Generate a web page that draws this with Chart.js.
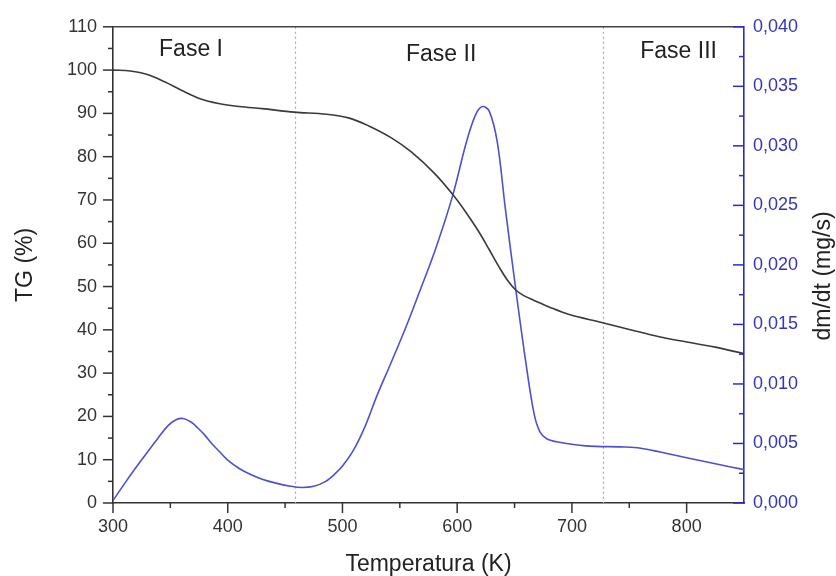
<!DOCTYPE html>
<html><head><meta charset="utf-8">
<script src="https://cdn.jsdelivr.net/npm/chart.js@4/dist/chart.umd.min.js"></script>
<style>html,body{margin:0;padding:0;background:#fff}#wrap{width:836px;height:576px}</style>
</head><body><div id="wrap"><canvas id="c" width="836" height="576"></canvas></div>
<script>
// ---- data ----
const tgTemps  = [300, 315, 330, 345, 360, 376, 392, 410, 430, 458, 486, 506, 523, 543, 560, 580, 596, 608, 619, 628, 637, 644, 651, 658, 667, 680, 697, 726, 750, 776, 800, 825, 850];
const tgValues = [100, 99.8, 99.0, 97.3, 95.3, 93.4, 92.3, 91.6, 91.1, 90.3, 89.8, 88.9, 87.1, 84.3, 81.1, 76.2, 71.3, 67.0, 62.6, 58.5, 54.3, 51.4, 49.2, 47.9, 46.8, 45.3, 43.6, 41.7, 40.1, 38.4, 37.2, 36.0, 34.5];

const dtgTemps  = [300, 312, 324, 338, 348, 355, 361, 368, 374, 380, 386, 393, 400, 410, 420, 430, 442, 455, 465, 475, 485, 493, 500, 510, 520, 530, 542, 555, 567, 581, 596, 608, 616, 622, 628, 635, 642, 651, 660, 667, 672, 678, 689, 712, 747, 760, 776, 800, 825, 850];
const dtgValues = [0.0002, 0.0019, 0.0035, 0.0053, 0.0065, 0.0070, 0.0071, 0.0068, 0.0063, 0.0057, 0.0050, 0.0043, 0.0036, 0.0029, 0.0024, 0.0020, 0.00167, 0.0014, 0.0013, 0.0014, 0.0018, 0.0024, 0.0031, 0.0045, 0.0065, 0.0090, 0.0117, 0.0147, 0.0177, 0.0213, 0.0258, 0.0303, 0.0326, 0.0333, 0.0329, 0.0303, 0.0247, 0.0180, 0.0117, 0.0075, 0.0060, 0.0054, 0.0051, 0.0048, 0.0047, 0.0046, 0.0043, 0.0038, 0.0033, 0.0028];

const xTickValues   = [300, 400, 500, 600, 700, 800];
const tgTickValues  = [0, 10, 20, 30, 40, 50, 60, 70, 80, 90, 100, 110];
const dtgTickValues = [0, 0.005, 0.010, 0.015, 0.020, 0.025, 0.030, 0.035, 0.040];
const phaseBoundaries = [459, 727];
const phaseNames      = ['Fase I', 'Fase II', 'Fase III'];
const phaseLabelTemps = [368, 586, 793];

const FONT = "'Liberation Sans', Arial, sans-serif";
const BLUE_AXIS = '#2b2bc4';
const BLUE_TEXT = '#3535b5';

const decorPlugin = {
  id: 'decor',
  beforeDatasetsDraw(chart) {
    const {ctx, chartArea: a, scales} = chart;
    ctx.save();
    ctx.strokeStyle = '#a8a8a8';
    ctx.lineWidth = 1.2;
    ctx.setLineDash([2, 3]);
    phaseBoundaries.forEach(t => {
      const x = Math.round(scales.x.getPixelForValue(t)) + 0.5;
      ctx.beginPath(); ctx.moveTo(x, a.top); ctx.lineTo(x, a.bottom); ctx.stroke();
    });
    ctx.restore();
  },
  afterDraw(chart) {
    const {ctx, chartArea: a, scales} = chart;
    ctx.save();
    ctx.strokeStyle = '#444';
    ctx.lineWidth = 1.6;
    ctx.beginPath(); ctx.moveTo(a.left, a.top); ctx.lineTo(a.right, a.top); ctx.stroke();
    ctx.lineWidth = 1.5;
    ctx.strokeStyle = '#333';
    for (let v = 0; v <= 110; v += 5) {
      const y = scales.y.getPixelForValue(v);
      const len = v % 10 === 0 ? 10 : 5;
      ctx.beginPath(); ctx.moveTo(a.left - len, y); ctx.lineTo(a.left, y); ctx.stroke();
    }
    for (let v = 300; v < 850; v += 50) {
      const x = scales.x.getPixelForValue(v);
      const len = v % 100 === 0 ? 10 : 5;
      ctx.beginPath(); ctx.moveTo(x, a.bottom); ctx.lineTo(x, a.bottom + len); ctx.stroke();
    }
    ctx.strokeStyle = BLUE_AXIS;
    for (let i = 0; i <= 16; i++) {
      const v = i * 0.0025;
      const y = scales.y1.getPixelForValue(v);
      const len = i % 2 === 0 ? 11 : 5;
      ctx.beginPath(); ctx.moveTo(a.right - len, y); ctx.lineTo(a.right, y); ctx.stroke();
    }
    ctx.fillStyle = '#222';
    ctx.font = '23px ' + FONT;
    ctx.textAlign = 'center';
    ctx.textBaseline = 'alphabetic';
    const ys = [56, 61, 58];
    phaseNames.forEach((n, i) => {
      ctx.fillText(n, scales.x.getPixelForValue(phaseLabelTemps[i]), ys[i]);
    });
    ctx.translate(824, 276);
    ctx.rotate(-Math.PI / 2);
    ctx.textBaseline = 'middle';
    ctx.fillText('dm/dt (mg/s)', 0, 0);
    ctx.restore();
  }
};

new Chart(document.getElementById('c'), {
  type: 'line',
  data: {
    datasets: [
      {
        label: 'TG',
        data: tgTemps.map((t, i) => ({x: t, y: tgValues[i]})),
        yAxisID: 'y',
        borderColor: '#3a3a3a',
        borderWidth: 1.6,
        pointRadius: 0,
        tension: 0.35,
        fill: false
      },
      {
        label: 'dm/dt',
        data: dtgTemps.map((t, i) => ({x: t, y: dtgValues[i]})),
        yAxisID: 'y1',
        borderColor: '#5050cc',
        borderWidth: 1.6,
        pointRadius: 0,
        tension: 0.35,
        fill: false
      }
    ]
  },
  options: {
    responsive: false,
    devicePixelRatio: 1,
    animation: false,
    layout: {padding: {top: 23, left: 0, right: 0, bottom: 0}},
    plugins: {legend: {display: false}, tooltip: {enabled: false}},
    scales: {
      x: {
        type: 'linear', position: 'bottom', min: 300, max: 850,
        afterBuildTicks: s => { s.ticks = xTickValues.map(v => ({value: v})); },
        afterFit: s => { s.height = 73; },
        ticks: {font: {size: 18, family: FONT}, color: '#333', padding: 13, maxRotation: 0},
        grid: {drawOnChartArea: false, drawTicks: false},
        border: {color: '#333', width: 1.6},
        title: {display: true, text: 'Temperatura (K)', color: '#222',
                font: {size: 23, family: FONT, lineHeight: 1}, padding: {top: 0, bottom: 0}}
      },
      y: {
        type: 'linear', position: 'left', min: 0, max: 110,
        afterBuildTicks: s => { s.ticks = tgTickValues.map(v => ({value: v})); },
        afterFit: s => { s.width = 113; },
        ticks: {font: {size: 18, family: FONT}, color: '#333', padding: 16},
        grid: {drawOnChartArea: false, drawTicks: false},
        border: {color: '#333', width: 1.6},
        title: {display: true, text: 'TG (%)', color: '#222',
                font: {size: 23, family: FONT, lineHeight: 1}, padding: {top: 14, bottom: 0}}
      },
      y1: {
        type: 'linear', position: 'right', min: 0, max: 0.04,
        afterBuildTicks: s => { s.ticks = dtgTickValues.map(v => ({value: v})); },
        afterFit: s => { s.width = 92; },
        ticks: {font: {size: 18, family: FONT}, color: BLUE_TEXT, padding: 9,
                callback: v => v.toFixed(3).replace('.', ',')},
        grid: {drawOnChartArea: false, drawTicks: false},
        border: {color: BLUE_AXIS, width: 1.6}
      }
    }
  },
  plugins: [decorPlugin]
});
</script>
</body></html>
